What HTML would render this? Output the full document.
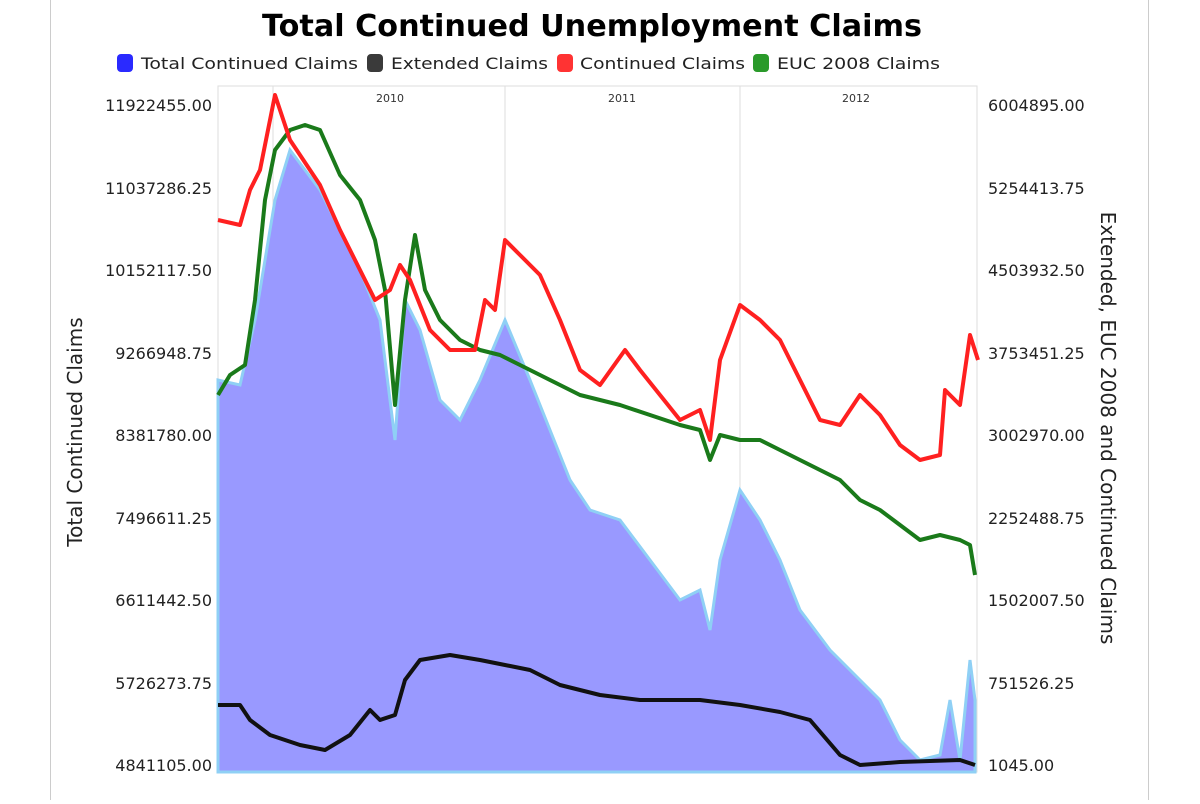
<!DOCTYPE html>
<html><head><meta charset="utf-8"><style>
body{margin:0;background:#fff;width:1200px;height:800px;overflow:hidden;font-family:"DejaVu Sans","Liberation Sans",sans-serif}
</style></head><body>
<svg width="1200" height="800" xmlns="http://www.w3.org/2000/svg" font-family="DejaVu Sans, Liberation Sans, sans-serif">
<rect x="50.5" y="-2" width="1098" height="810" fill="#fff" stroke="#ccc"/>
<text x="592" y="36" text-anchor="middle" font-size="30" font-weight="bold" textLength="660" lengthAdjust="spacingAndGlyphs">Total Continued Unemployment Claims</text>
<g font-size="16" fill="#222">
<rect x="117" y="54" width="16" height="18" rx="4" fill="#2a2aff"/><text x="141" y="69" textLength="217" lengthAdjust="spacingAndGlyphs">Total Continued Claims</text>
<rect x="367" y="54" width="16" height="18" rx="4" fill="#3a3a3a"/><text x="391" y="69" textLength="157" lengthAdjust="spacingAndGlyphs">Extended Claims</text>
<rect x="557" y="54" width="16" height="18" rx="4" fill="#ff3333"/><text x="580" y="69" textLength="165" lengthAdjust="spacingAndGlyphs">Continued Claims</text>
<rect x="753" y="54" width="16" height="18" rx="4" fill="#2a9a2a"/><text x="777" y="69" textLength="163" lengthAdjust="spacingAndGlyphs">EUC 2008 Claims</text>
</g>
<rect x="218" y="86" width="759" height="686" fill="#fff" stroke="#ddd"/>
<g stroke="#ddd"><line x1="273" y1="86" x2="273" y2="772"/><line x1="505" y1="86" x2="505" y2="772"/><line x1="740" y1="86" x2="740" y2="772"/></g>
<g font-size="11" fill="#333" text-anchor="middle"><text x="390" y="102">2010</text><text x="622" y="102">2011</text><text x="856" y="102">2012</text></g>
<polygon fill="#9999ff" stroke="#8fd0f5" stroke-width="3" points="218,772 218,380 240,385 255,320 275,200 290,150 320,190 340,230 360,270 380,320 395,440 405,300 420,330 440,400 460,420 480,380 505,320 530,380 550,430 570,480 590,510 620,520 650,560 680,600 700,590 710,630 720,560 740,490 760,520 780,560 800,610 830,650 860,680 880,700 900,740 920,760 940,755 950,700 960,760 970,660 975,700 975,772"/>
<g fill="none" stroke-width="4" stroke-linejoin="round">
<polyline stroke="#111" points="218,705 240,705 250,720 270,735 300,745 325,750 350,735 370,710 380,720 395,715 405,680 420,660 450,655 480,660 505,665 530,670 560,685 600,695 640,700 700,700 740,705 780,712 810,720 840,755 860,765 900,762 960,760 975,765"/>
<polyline stroke="#1a7a1a" points="218,395 230,375 245,365 255,300 265,200 275,150 290,130 305,125 320,130 340,175 360,200 375,240 385,290 395,405 405,300 415,235 425,290 440,320 460,340 480,350 500,355 520,365 540,375 560,385 580,395 600,400 620,405 650,415 680,425 700,430 710,460 720,435 740,440 760,440 780,450 800,460 820,470 840,480 860,500 880,510 900,525 920,540 940,535 960,540 970,545 975,575"/>
<polyline stroke="#ff2020" points="218,220 240,225 250,190 260,170 275,95 290,140 300,155 320,185 340,230 360,270 375,300 390,290 400,265 410,280 430,330 450,350 475,350 485,300 495,310 505,240 520,255 540,275 560,320 580,370 600,385 625,350 640,370 660,395 680,420 700,410 710,440 720,360 740,305 760,320 780,340 800,380 820,420 840,425 860,395 880,415 900,445 920,460 940,455 945,390 960,405 970,335 978,360"/>
</g>
<g font-size="16" fill="#222" text-anchor="end">
<text x="212" y="111">11922455.00</text><text x="212" y="194">11037286.25</text><text x="212" y="276">10152117.50</text><text x="212" y="359">9266948.75</text><text x="212" y="441">8381780.00</text><text x="212" y="524">7496611.25</text><text x="212" y="606">6611442.50</text><text x="212" y="689">5726273.75</text><text x="212" y="771">4841105.00</text>
</g>
<g font-size="16" fill="#222">
<text x="988" y="111">6004895.00</text><text x="988" y="194">5254413.75</text><text x="988" y="276">4503932.50</text><text x="988" y="359">3753451.25</text><text x="988" y="441">3002970.00</text><text x="988" y="524">2252488.75</text><text x="988" y="606">1502007.50</text><text x="988" y="689">751526.25</text><text x="988" y="771">1045.00</text>
</g>
<text transform="translate(82,432) rotate(-90)" text-anchor="middle" font-size="20" fill="#222">Total Continued Claims</text>
<text transform="translate(1101,428) rotate(90)" text-anchor="middle" font-size="20" fill="#222">Extended, EUC 2008 and Continued Claims</text>
</svg>
</body></html>
